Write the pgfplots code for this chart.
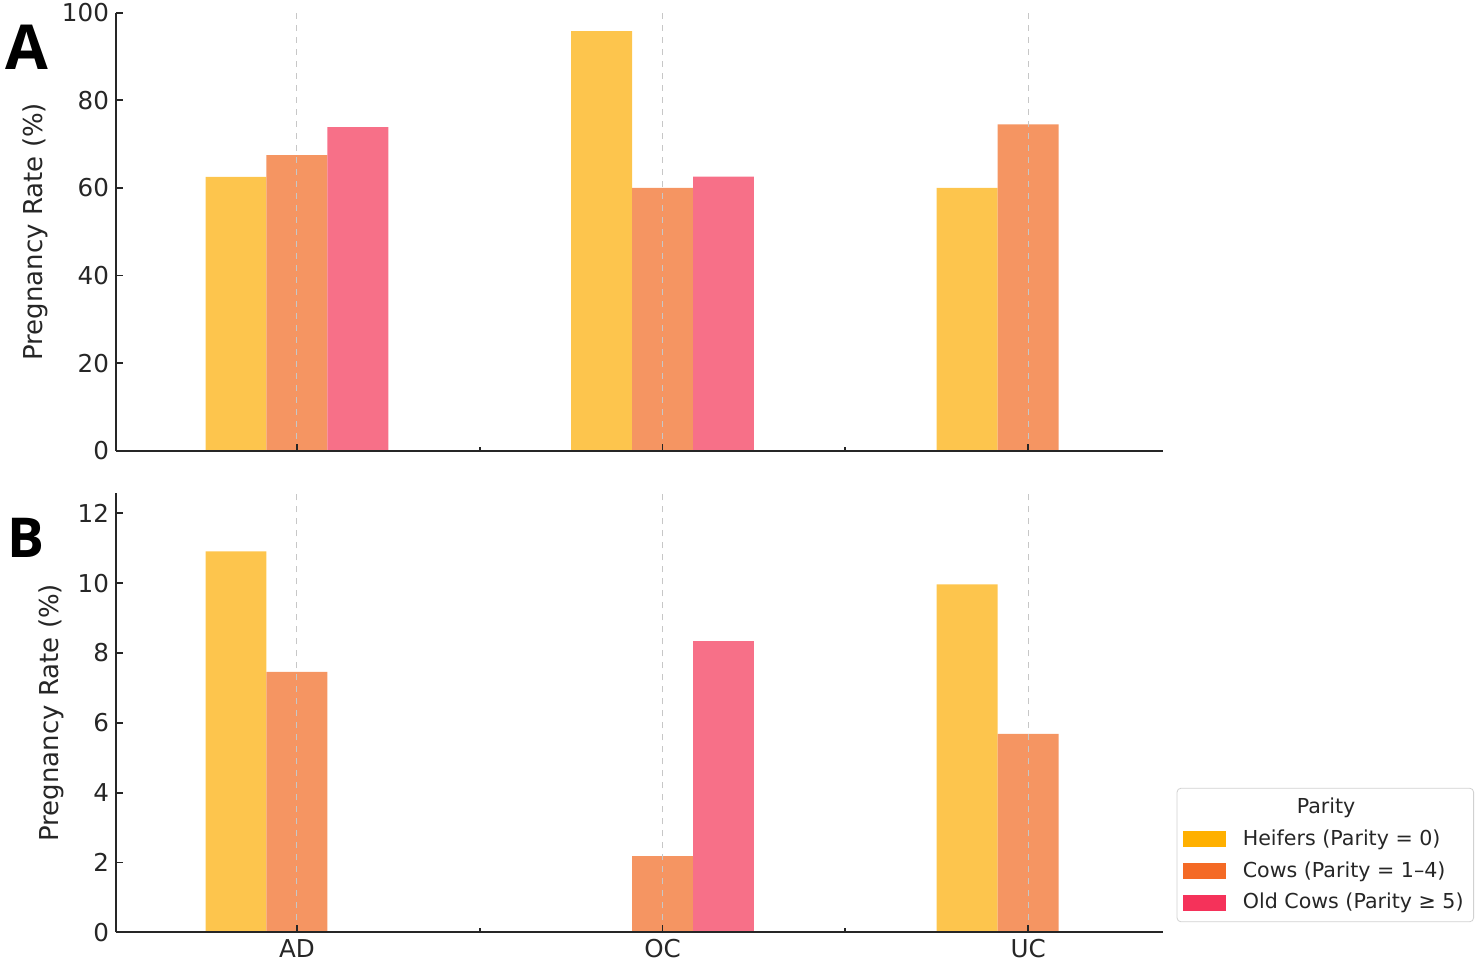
\documentclass[border=0pt]{standalone}
\usepackage{fontspec}
\setmainfont{DejaVu Sans}
\newfontfamily\panelfont{Open Sans}
\usepackage{pgfplots}
\pgfplotsset{compat=1.18}
\definecolor{hB}{HTML}{FDC54D}
\definecolor{cB}{HTML}{F59562}
\definecolor{oB}{HTML}{F77088}
\definecolor{hL}{HTML}{FFB000}
\definecolor{cL}{HTML}{F46A25}
\definecolor{oL}{HTML}{F5325A}
\definecolor{axc}{HTML}{262626}
\pgfplotsset{myaxis/.style={
  scale only axis, width=523.5pt, xmin=-0.495, xmax=2.369, ymin=0,
  axis x line*=bottom, axis y line*=left,
  axis line style={-, color=axc, line width=0.9pt},
  xtick={0,1,2}, minor xtick={0.5,1.5},
  major tick length=3.5pt, minor tick length=2pt,
  every tick/.style={axc, line width=0.9pt},
  xmajorgrids, major x grid style={dashed, black!22, line width=0.5pt},
  axis on top,
  tick label style={font=\fontsize{12.3}{14}\selectfont, color=axc},
  /pgf/number format/assume math mode=true,
  ylabel={Pregnancy Rate (\%)},
  ylabel style={font=\fontsize{13}{15}\selectfont, color=axc},
}}
\begin{document}
\begin{tikzpicture}
\useasboundingbox (-58pt,-256.65pt) rectangle (680.5pt,225.35pt);
\begin{axis}[myaxis, at={(0,0)}, anchor=south west, height=219pt,
  ymax=100, ytick={0,20,40,60,80,100}, xticklabels={}]
\addplot[ybar, bar width=0.16667, bar shift=-0.16667, fill=hB, draw=none] coordinates {(0,62.5) (1,95.8) (2,60.0)};
\addplot[ybar, bar width=0.16667, bar shift=0, fill=cB, draw=none] coordinates {(0,67.5) (1,60.0) (2,74.5)};
\addplot[ybar, bar width=0.16667, bar shift=0.16667, fill=oB, draw=none] coordinates {(0,73.9) (1,62.6)};
\end{axis}
\begin{axis}[myaxis, at={(0,-240.8pt)}, anchor=south west, height=219.65pt,
  ymax=12.58, ytick={0,2,4,6,8,10,12}, xticklabels={AD,OC,UC},
  legend style={at={(1.013,0.023)}, anchor=south west, draw=black!18, rounded corners=2pt,
    font=\fontsize{10.3}{12}\selectfont, text=axc, row sep=2.5pt, inner sep=3pt,
    /tikz/every odd column/.style={column sep=6.5pt}},
  legend cell align=left]
\addplot[ybar, bar width=0.16667, bar shift=-0.16667, fill=hB, draw=none, forget plot] coordinates {(0,10.91) (2,9.96)};
\addplot[ybar, bar width=0.16667, bar shift=0, fill=cB, draw=none, forget plot] coordinates {(0,7.46) (1,2.18) (2,5.68)};
\addplot[ybar, bar width=0.16667, bar shift=0.16667, fill=oB, draw=none, forget plot] coordinates {(1,8.33)};
\addlegendimage{empty legend}
\addlegendentry{\hspace*{27pt}Parity}
\addlegendimage{legend image code/.code={\fill[hL, sharp corners] (0pt,-3.75pt) rectangle (21pt,3.75pt);}}
\addlegendentry{Heifers (Parity = 0)}
\addlegendimage{legend image code/.code={\fill[cL, sharp corners] (0pt,-3.75pt) rectangle (21pt,3.75pt);}}
\addlegendentry{Cows (Parity = 1–4)}
\addlegendimage{legend image code/.code={\fill[oL, sharp corners] (0pt,-3.75pt) rectangle (21pt,3.75pt);}}
\addlegendentry{Old Cows (Parity ≥ 5)}
\end{axis}
\node[font=\panelfont\bfseries\fontsize{31}{31}\selectfont] at (-44.5pt,201.85pt) {A};
\node[font=\panelfont\bfseries\fontsize{27.5}{27.5}\selectfont] at (-45pt,-43.65pt) {B};
\end{tikzpicture}
\end{document}
